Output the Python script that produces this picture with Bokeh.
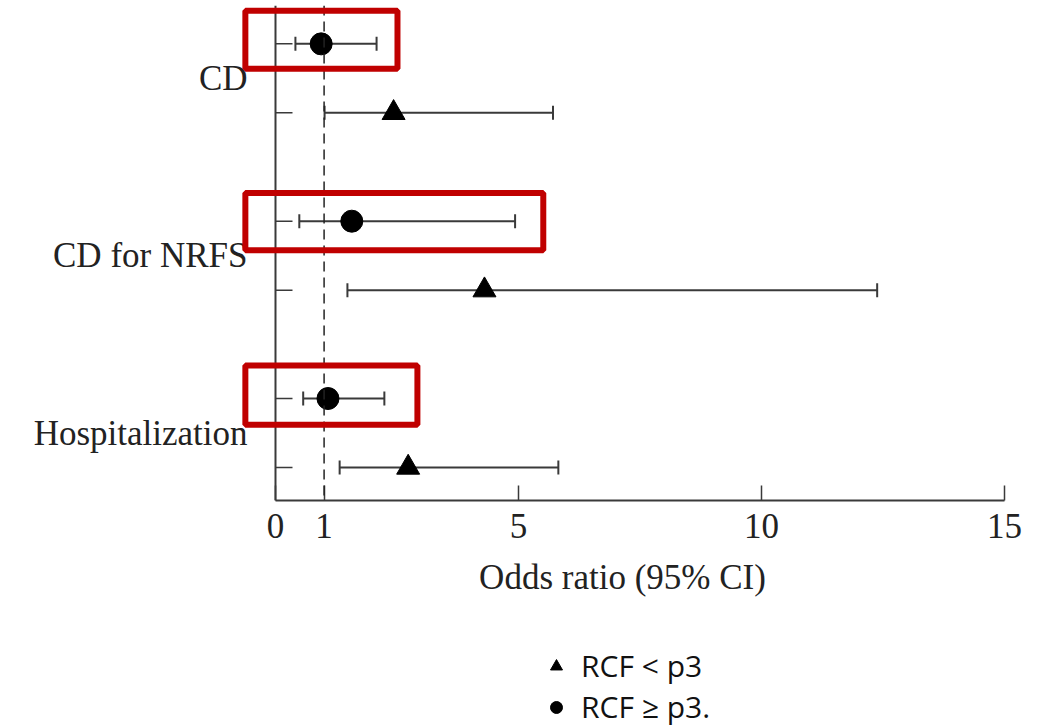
from bokeh.plotting import figure
from bokeh.layouts import column
from bokeh.models import (ColumnDataSource, FixedTicker, Whisker, TeeHead, Span,
                          BoxAnnotation, Legend, LegendItem, Range1d)
from bokeh.embed import file_html
from bokeh.resources import INLINE

# ---------------- data ----------------
categories = ["CD", "CD for NRFS", "Hospitalization"]
# RCF >= p3 (circles)
or_ge = [0.94, 1.57, 1.08]
lo_ge = [0.41, 0.49, 0.57]
hi_ge = [2.08, 4.93, 2.24]
# RCF < p3 (triangles)
or_lt = [2.43, 4.30, 2.73]
lo_lt = [1.01, 1.48, 1.32]
hi_lt = [5.71, 12.38, 5.82]
x_ticks = [0, 1, 5, 10, 15]
legend_labels = ["RCF < p3", "RCF \u2265 p3."]
# highlight boxes around the RCF >= p3 rows (x extent, y offsets from row)
box_left = -0.62
box_right = [2.51, 5.51, 2.92]
box_below = [-0.36, -0.42, -0.38]
box_above = [0.48, 0.41, 0.48]

# ---------------- layout of rows ----------------
group_pitch = 2.57
n = len(categories)
base = [(n - 1 - i) * group_pitch for i in range(n)]
y_lt = [b for b in base]
y_ge = [b + 1 for b in base]
label_pos = [b + 0.5 for b in base]
rows = y_ge + y_lt

SERIF = "Liberation Serif"
FS = "35px"
LINE = "#3a3a3a"
MAIN_H = 640
LEG_H = 727 - MAIN_H

p = figure(width=1043, height=MAIN_H,
           x_range=Range1d(-0.72, 15), y_range=Range1d(-0.478, 6.696),
           output_backend="svg", toolbar_location=None,
           min_border_left=240, min_border_right=39,
           min_border_top=5, min_border_bottom=MAIN_H - 500)
p.xgrid.visible = False
p.ygrid.visible = False
p.outline_line_color = None
p.background_fill_color = "white"
p.border_fill_color = "white"

# vertical axis line at OR = 0 and reference line at OR = 1
p.add_layout(Span(location=0, dimension="height", line_color=LINE, line_width=2))
p.add_layout(Span(location=1, dimension="height", line_color="#222222",
                  line_width=1.5, line_dash="10 6"))
# row tick marks on the vertical axis
p.ray(x=[0] * len(rows), y=rows, length=17, length_units="screen", angle=0,
      line_color=LINE, line_width=1.5)

src_ge = ColumnDataSource(dict(y=y_ge, x=or_ge, lo=lo_ge, hi=hi_ge))
src_lt = ColumnDataSource(dict(y=y_lt, x=or_lt, lo=lo_lt, hi=hi_lt))

for src in (src_ge, src_lt):
    w = Whisker(source=src, base="y", lower="lo", upper="hi", dimension="width",
                line_color=LINE, line_width=2, level="underlay",
                lower_head=TeeHead(size=14, line_color=LINE, line_width=2),
                upper_head=TeeHead(size=14, line_color=LINE, line_width=2))
    p.add_layout(w)

tri_style = dict(marker="triangle", fill_color="black", line_color="black")
circ_style = dict(marker="circle", fill_color="black", line_color="black")
p.scatter("x", "y", source=src_lt, size=23, **tri_style)
p.scatter("x", "y", source=src_ge, size=22, **circ_style)

# red highlight boxes
for i in range(n):
    p.add_layout(BoxAnnotation(left=box_left, right=box_right[i],
                               bottom=y_ge[i] + box_below[i], top=y_ge[i] + box_above[i],
                               fill_color=None, fill_alpha=0,
                               line_color="#C00000", line_alpha=1.0,
                               line_width=6, level="overlay"))

# x axis
xa = p.xaxis[0]
xa.ticker = FixedTicker(ticks=x_ticks)
xa.bounds = (0, 15)
xa.axis_label = "Odds ratio (95% CI)"
xa.axis_label_text_font = SERIF
xa.axis_label_text_font_size = FS
xa.axis_label_text_font_style = "normal"
xa.axis_label_text_color = "#222222"
xa.axis_label_standoff = 17
xa.major_label_text_font = SERIF
xa.major_label_text_font_size = FS
xa.major_label_text_color = "#222222"
xa.major_label_standoff = 13
xa.major_tick_in = 15
xa.major_tick_out = 0
xa.minor_tick_line_color = None
xa.axis_line_color = LINE
xa.axis_line_width = 2
xa.major_tick_line_color = LINE
xa.major_tick_line_width = 1.5

# y axis: category labels only
ya = p.yaxis[0]
ya.ticker = FixedTicker(ticks=label_pos)
ya.major_label_overrides = {pos: name for pos, name in zip(label_pos, categories)}
ya.major_label_text_font = SERIF
ya.major_label_text_font_size = FS
ya.major_label_text_color = "#222222"
ya.major_label_standoff = -7
ya.major_tick_in = 0
ya.major_tick_out = 0
ya.major_tick_line_color = None
ya.minor_tick_line_color = None
ya.axis_line_color = None

# ---------------- legend strip ----------------
lg = figure(width=1043, height=LEG_H, x_range=Range1d(0, 1), y_range=Range1d(-100, -99),
            output_backend="svg", toolbar_location=None,
            min_border_left=0, min_border_right=0, min_border_top=0, min_border_bottom=0)
lg.axis.visible = False
lg.grid.visible = False
lg.outline_line_color = None
tri_key = lg.scatter("x", "y", source=src_lt, size=12, **tri_style)
circ_key = lg.scatter("x", "y", source=src_ge, size=12, **circ_style)

legend = Legend(items=[LegendItem(label=legend_labels[0], renderers=[tri_key]),
                       LegendItem(label=legend_labels[1], renderers=[circ_key])],
                location=(301, 0), orientation="vertical",
                label_text_font="Open Sans", label_text_font_size="30px",
                label_text_color="#111111", label_standoff=10,
                glyph_width=30, glyph_height=38, label_height=38,
                spacing=0, padding=0, margin=0,
                border_line_color=None, background_fill_alpha=0)
lg.add_layout(legend, "center")

layout = column(p, lg, spacing=0)
open("out.html", "w").write(file_html(layout, INLINE))
